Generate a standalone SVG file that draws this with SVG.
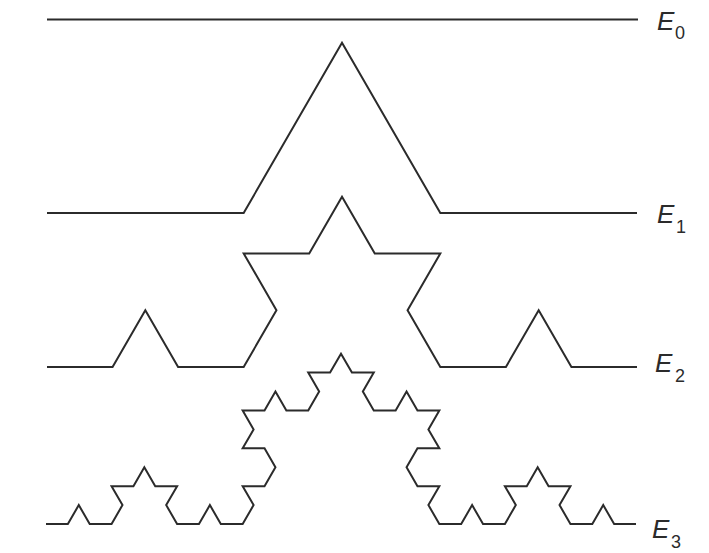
<svg xmlns="http://www.w3.org/2000/svg" width="709" height="553" viewBox="0 0 709 553">
<style>
.c{fill:none;stroke:#2b2b2b;stroke-width:2;stroke-linejoin:miter;stroke-linecap:butt}
.e{font-family:"Liberation Sans",Arial,sans-serif;font-style:italic;fill:#2b2b2b;font-size:26px}
.s{font-family:"Liberation Sans",Arial,sans-serif;fill:#2b2b2b;font-size:18px}
</style>
<rect width="709" height="553" fill="#ffffff"/>
<g id="connectors">
<g id="E0-curve"><path class="c" d="M47 19.5 L638 19.5"/></g>
<g id="E1-curve"><path class="c" d="M47 213 L243.67 213 L342 42.7 L440.33 213 L637 213"/></g>
<g id="E2-curve"><path class="c" d="M47 367 L112.56 367 L145.33 310.23 L178.11 367 L243.67 367 L276.44 310.23 L243.67 253.46 L309.22 253.46 L342 196.69 L374.78 253.46 L440.33 253.46 L407.56 310.23 L440.33 367 L505.89 367 L538.67 310.23 L571.44 367 L637 367"/></g>
<g id="E3-curve"><path class="c" d="M46 524 l21.852 0 10.926 -18.924 10.926 18.924 21.852 0
10.926 -18.924 -10.926 -18.924 21.852 0 10.926 -18.924
10.926 18.924 21.852 0 -10.926 18.924 10.926 18.924
21.852 0 10.926 -18.924 10.926 18.924 21.852 0
10.926 -18.924 -10.926 -18.924 21.852 0 10.926 -18.924
-10.926 -18.924 -21.852 0 10.926 -18.924 -10.926 -18.924
21.852 0 10.926 -18.924 10.926 18.924 21.852 0
10.926 -18.924 -10.926 -18.924 21.852 0 10.926 -18.924
10.926 18.924 21.852 0 -10.926 18.924 10.926 18.924
21.852 0 10.926 -18.924 10.926 18.924 21.852 0
-10.926 18.924 10.926 18.924 -21.852 0 -10.926 18.924
10.926 18.924 21.852 0 -10.926 18.924 10.926 18.924
21.852 0 10.926 -18.924 10.926 18.924 21.852 0
10.926 -18.924 -10.926 -18.924 21.852 0 10.926 -18.924
10.926 18.924 21.852 0 -10.926 18.924 10.926 18.924
21.852 0 10.926 -18.924 10.926 18.924 21.852 0"/></g>
</g>
<g id="label-E0"><text class="e" x="657" y="30">E</text><text class="s" x="675" y="39">0</text></g>
<g id="label-E1"><text class="e" x="657" y="223">E</text><text class="s" x="676" y="233">1</text></g>
<g id="label-E2"><text class="e" x="655" y="372">E</text><text class="s" x="675" y="382">2</text></g>
<g id="label-E3"><text class="e" x="652" y="538">E</text><text class="s" x="671" y="548">3</text></g>
</svg>
